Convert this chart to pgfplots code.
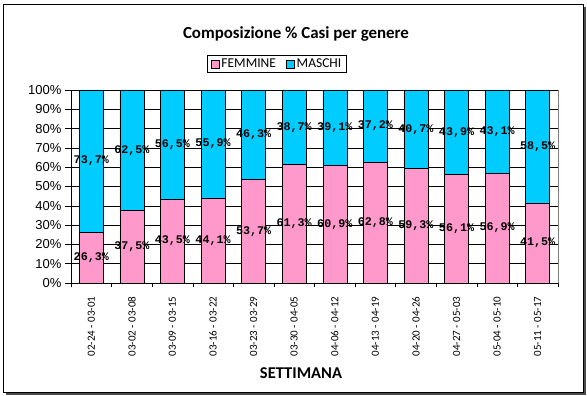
\documentclass[border=0pt]{standalone}
\usepackage{pgfplots}
\pgfplotsset{compat=1.18}
\usepackage{pgfplotstable}
\usepackage{fontspec}
\setmainfont{Carlito}
\newfontfamily\arialf{Liberation Sans}
\newfontfamily\monof{Liberation Mono}
\definecolor{pinkF}{HTML}{FF99CC}
\definecolor{cyanM}{HTML}{00CCFF}

\pgfplotstableread{
x F M
0 26.3 73.7
1 37.5 62.5
2 43.5 56.5
3 44.1 55.9
4 53.7 46.3
5 61.3 38.7
6 60.9 39.1
7 62.8 37.2
8 59.3 40.7
9 56.1 43.9
10 56.9 43.1
11 41.5 58.5
}\datatable

\pgfplotstableread{
x mid lab
0 13.15 26,3\%
1 18.75 37,5\%
2 21.75 43,5\%
3 22.05 44,1\%
4 26.85 53,7\%
5 30.65 61,3\%
6 30.45 60,9\%
7 31.40 62,8\%
8 29.65 59,3\%
9 28.05 56,1\%
10 28.45 56,9\%
11 20.75 41,5\%
0 63.15 73,7\%
1 68.75 62,5\%
2 71.75 56,5\%
3 72.05 55,9\%
4 76.85 46,3\%
5 80.65 38,7\%
6 80.45 39,1\%
7 81.40 37,2\%
8 79.65 40,7\%
9 78.05 43,9\%
10 78.45 43,1\%
11 70.75 58,5\%
}\labtable

\begin{document}
\begin{tikzpicture}
\path[use as bounding box] (0pt,0pt) rectangle (587pt,396pt);
\fill[black!70] (6pt,1pt) rectangle (585pt,3.5pt);
\fill[black!70] (583pt,1pt) rectangle (585.5pt,389pt);
\draw[line width=0.9pt] (3pt,3.5pt) rectangle (583pt,392pt);
\begin{axis}[
  at={(71pt,113pt)}, anchor=south west,
  scale only axis, width=487pt, height=193pt,
  ybar stacked, bar width=24pt,
  xmin=-0.5, xmax=11.5, ymin=0, ymax=100,
  axis x line*=bottom, axis y line*=left,
  axis line style={black, line width=0.6pt},
  xtick={0,...,11},
  xticklabels={02-24 - 03-01,03-02 - 03-08,03-09 - 03-15,03-16 - 03-22,03-23 - 03-29,03-30 - 04-05,04-06 - 04-12,04-13 - 04-19,04-20 - 04-26,04-27 - 05-03,05-04 - 05-10,05-11 - 05-17},
  x tick label style={rotate=90, anchor=east, font=\fontsize{11}{12}\selectfont, xshift=-4pt},
  major x tick style={draw=none},
  minor xtick={-0.5,0.5,...,11.5},
  minor x tick style={black, line width=0.5pt},
  minor tick length=4.5pt,
  tick align=outside,
  ytick={0,10,...,100},
  yticklabels={0\%,10\%,20\%,30\%,40\%,50\%,60\%,70\%,80\%,90\%,100\%},
  y tick label style={font=\arialf\fontsize{13}{14}\selectfont, xshift=0pt},
  major y tick style={black, line width=0.5pt},
  major tick length=6pt,
  ymajorgrids, grid style={black, line width=0.5pt},
  legend columns=2,
  legend style={at={(0.423,1.135)}, anchor=center, draw=black, line width=0.6pt,
    font=\fontsize{13.5}{14}\selectfont, inner xsep=3pt, inner ysep=1.5pt,
    /tikz/every even column/.append style={column sep=8pt}},
  legend image code/.code={\draw[#1,draw=black,line width=0.7pt] (0pt,-4pt) rectangle (8pt,4pt);},
  clip=false,
]
\addplot[fill=pinkF, draw=black, line width=0.5pt] table[x=x,y=F]{\datatable};
\addlegendentry{FEMMINE}
\addplot[fill=cyanM, draw=black, line width=0.5pt] table[x=x,y=M]{\datatable};
\addlegendentry{MASCHI}
\draw[gray, line width=0.6pt] (rel axis cs:1,0) -- (rel axis cs:1,1);
\end{axis}
\begin{axis}[
  at={(71pt,113pt)}, anchor=south west,
  scale only axis, width=487pt, height=193pt,
  xmin=-0.5, xmax=11.5, ymin=0, ymax=100,
  hide axis, clip=false,
]
\addplot[draw=none, mark=none, only marks,
  nodes near coords, point meta=explicit symbolic,
  every node near coord/.style={anchor=center, font=\monof\bfseries\fontsize{11.7}{12}\selectfont, inner sep=0pt}]
  table[x=x, y=mid, meta=lab]{\labtable};
\end{axis}
\node[font=\bfseries\fontsize{16.9}{18}\selectfont] at (296pt,362pt) {Composizione \% Casi per genere};
\node[font=\bfseries\fontsize{16.5}{18}\selectfont] at (301pt,23pt) {SETTIMANA};
\end{tikzpicture}
\end{document}
